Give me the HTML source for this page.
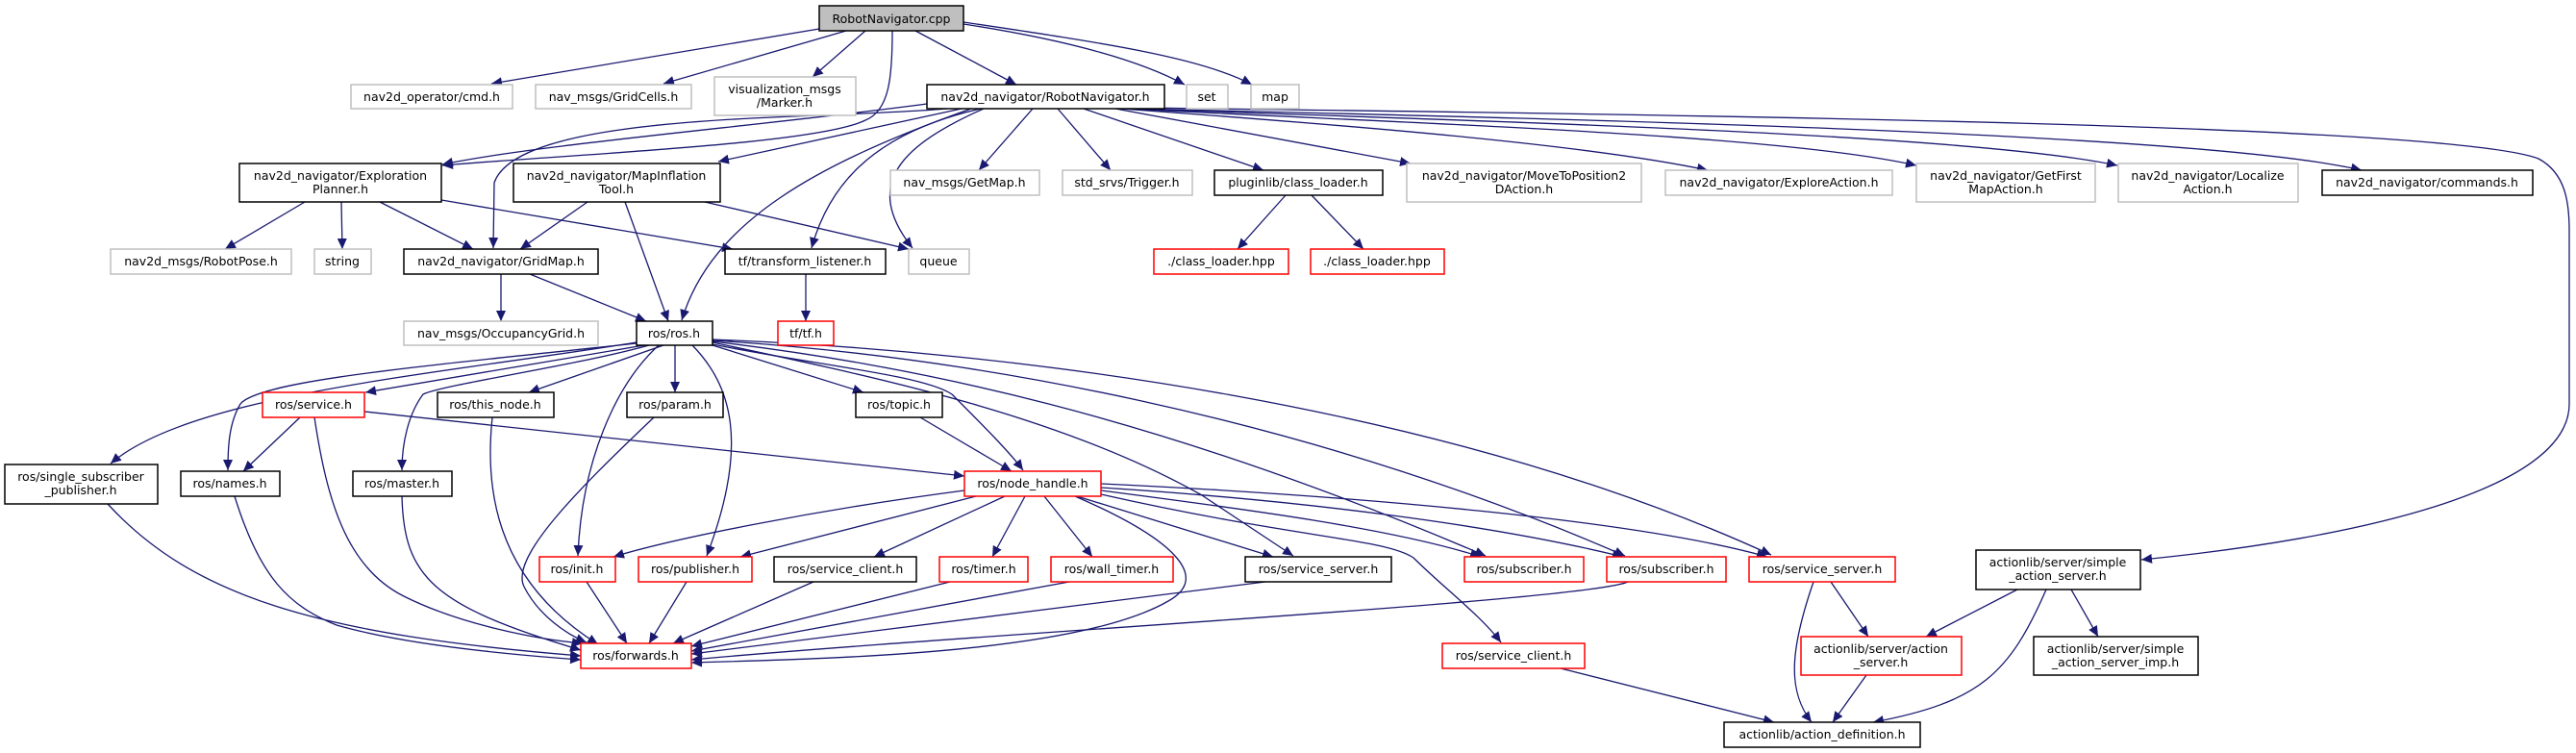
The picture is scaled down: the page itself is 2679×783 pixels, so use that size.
<!DOCTYPE html>
<html><head><meta charset="utf-8"><style>
html,body{margin:0;padding:0;background:#fff;}
svg{display:block;}
text{font-family:"DejaVu Sans","Liberation Sans",sans-serif;font-size:12.5px;fill:#000;text-anchor:middle;}
.e{fill:none;stroke:#191970;stroke-width:1.3;marker-end:url(#a);}
.b{fill:#fff;stroke:#000;stroke-width:1.5;}
.g{fill:#fff;stroke:#bfbfbf;stroke-width:1.5;}
.r{fill:#fff;stroke:#ff0000;stroke-width:1.5;}
</style></head><body>
<svg width="2679" height="783" viewBox="0 0 2679 783" xmlns="http://www.w3.org/2000/svg">
<defs><marker id="a" markerUnits="userSpaceOnUse" markerWidth="12" markerHeight="10" refX="11" refY="5" orient="auto"><path d="M0,0 L11,5 L0,10 z" fill="#191970"/></marker></defs>
<!-- edges -->
<g>
<path class="e" d="M852,30 L511,87"/>
<path class="e" d="M880,32 L690,87"/>
<path class="e" d="M900,32 L845,80"/>
<path class="e" d="M928,32 C928,80 925,115 900,125 C850,150 600,160 460,172"/>
<path class="e" d="M952,32 L1057,88"/>
<path class="e" d="M1002,25 C1100,40 1180,60 1232,88"/>
<path class="e" d="M1002,23 C1150,45 1250,60 1302,88"/>
<path class="e" d="M964,108 C800,130 560,150 460,171"/>
<path class="e" d="M1000,113 L747,168"/>
<path class="e" d="M985,113 C850,125 540,115 514,190 L513,258"/>
<path class="e" d="M1010,113 C850,170 740,230 709,333"/>
<path class="e" d="M1020,113 C900,140 860,200 844,258"/>
<path class="e" d="M1023,113 C940,150 895,190 949,258"/>
<path class="e" d="M1074,113 L1018,177"/>
<path class="e" d="M1100,113 L1155,177"/>
<path class="e" d="M1127,113 L1314,177"/>
<path class="e" d="M1160,113 L1467,170"/>
<path class="e" d="M1165,113 C1400,130 1650,150 1776,177"/>
<path class="e" d="M1170,113 C1500,130 1850,140 1993,172"/>
<path class="e" d="M1175,113 C1600,128 2050,140 2202,172"/>
<path class="e" d="M1180,113 C1700,125 2300,140 2456,177"/>
<path class="e" d="M1185,112 C1800,120 2550,130 2640,165 C2668,180 2672,210 2672,240 L2672,420 C2672,510 2450,560 2227,582"/>
<path class="e" d="M317,210 L234,259"/>
<path class="e" d="M355,210 L356,259"/>
<path class="e" d="M395,210 L492,259"/>
<path class="e" d="M459,208 L762,259"/>
<path class="e" d="M611,210 L541,259"/>
<path class="e" d="M650,210 L695,334"/>
<path class="e" d="M733,210 L945,259"/>
<path class="e" d="M521,285 L521,334"/>
<path class="e" d="M551,285 L672,334"/>
<path class="e" d="M838,285 L838,334"/>
<path class="e" d="M1337,203 L1287,259"/>
<path class="e" d="M1364,203 L1418,259"/>
<path class="e" d="M662,356 C450,390 200,410 115,482"/>
<path class="e" d="M662,357 C450,380 270,395 250,420 C238,440 237,465 237,489"/>
<path class="e" d="M670,359 L380,408"/>
<path class="e" d="M675,359 C600,380 460,400 440,410 C425,430 418,460 418,489"/>
<path class="e" d="M690,359 L550,408"/>
<path class="e" d="M702,359 L702,408"/>
<path class="e" d="M685,359 C640,400 605,480 601,578"/>
<path class="e" d="M720,359 C760,400 780,460 735,578"/>
<path class="e" d="M741,359 L898,408"/>
<path class="e" d="M741,358 C850,380 960,390 990,410 C1020,440 1050,470 1064,489"/>
<path class="e" d="M741,356 C900,390 1100,430 1250,515 L1345,578"/>
<path class="e" d="M741,355 C950,380 1200,430 1545,578"/>
<path class="e" d="M741,354 C1000,370 1350,430 1690,578"/>
<path class="e" d="M741,353 C1050,365 1500,420 1842,577"/>
<path class="e" d="M312,434 L253,490"/>
<path class="e" d="M327,434 C340,520 360,590 420,620 C480,650 560,665 606,669"/>
<path class="e" d="M379,428 L1003,495"/>
<path class="e" d="M512,434 C505,500 510,600 622,670"/>
<path class="e" d="M680,434 C600,510 530,580 545,610 C560,640 590,660 610,668"/>
<path class="e" d="M957,434 L1052,490"/>
<path class="e" d="M112,524 C200,620 330,660 604,682"/>
<path class="e" d="M244,516 C270,600 300,630 350,650 C420,670 520,680 604,686"/>
<path class="e" d="M418,516 C420,600 450,630 604,676"/>
<path class="e" d="M610,605 L652,669"/>
<path class="e" d="M714,605 L675,669"/>
<path class="e" d="M846,605 L700,669"/>
<path class="e" d="M988,605 L719,672"/>
<path class="e" d="M1112,605 L719,677"/>
<path class="e" d="M1316,605 L719,680"/>
<path class="e" d="M1693,605 C1650,625 1000,660 719,686"/>
<path class="e" d="M1118,516 C1220,560 1260,600 1215,625 C1120,680 860,685 719,689"/>
<path class="e" d="M1003,510 C850,530 700,560 638,579"/>
<path class="e" d="M1015,516 L770,579"/>
<path class="e" d="M1045,516 L909,579"/>
<path class="e" d="M1066,516 L1032,579"/>
<path class="e" d="M1086,516 L1136,579"/>
<path class="e" d="M1120,516 L1324,579"/>
<path class="e" d="M1145,510 C1300,530 1450,550 1540,579"/>
<path class="e" d="M1145,507 C1350,520 1550,545 1688,579"/>
<path class="e" d="M1145,503 C1400,515 1700,540 1838,579"/>
<path class="e" d="M1145,514 C1350,560 1440,560 1470,580 C1500,610 1540,640 1561,668"/>
<path class="e" d="M1623,695 L1845,751"/>
<path class="e" d="M1886,605 C1860,680 1860,720 1884,751"/>
<path class="e" d="M1904,605 L1943,662"/>
<path class="e" d="M2098,613 L2003,662"/>
<path class="e" d="M2128,613 C2090,700 2060,730 1948,751"/>
<path class="e" d="M2154,613 L2182,662"/>
<path class="e" d="M1941,702 L1906,751"/>
</g>
<!-- nodes -->
<rect x="852" y="6" width="150" height="26" fill="#bfbfbf" stroke="#000" stroke-width="1.5"/><text x="927" y="24">RobotNavigator.cpp</text>
<rect class="g" x="365" y="88" width="168" height="25"/><text x="449" y="105">nav2d_operator/cmd.h</text>
<rect class="g" x="557" y="88" width="162" height="25"/><text x="638" y="105">nav_msgs/GridCells.h</text>
<rect class="g" x="743" y="80" width="147" height="40"/><text x="816" y="97">visualization_msgs</text><text x="816" y="111">/Marker.h</text>
<rect class="b" x="964" y="88" width="247" height="25"/><text x="1087" y="105">nav2d_navigator/RobotNavigator.h</text>
<rect class="g" x="1234" y="88" width="43" height="25"/><text x="1255" y="105">set</text>
<rect class="g" x="1301" y="88" width="50" height="25"/><text x="1326" y="105">map</text>
<rect class="b" x="249" y="170" width="210" height="40"/><text x="354" y="187">nav2d_navigator/Exploration</text><text x="354" y="201">Planner.h</text>
<rect class="b" x="534" y="170" width="215" height="40"/><text x="641" y="187">nav2d_navigator/MapInflation</text><text x="641" y="201">Tool.h</text>
<rect class="g" x="926" y="177" width="155" height="26"/><text x="1003" y="194">nav_msgs/GetMap.h</text>
<rect class="g" x="1105" y="177" width="135" height="26"/><text x="1172" y="194">std_srvs/Trigger.h</text>
<rect class="b" x="1263" y="177" width="175" height="26"/><text x="1350" y="194">pluginlib/class_loader.h</text>
<rect class="g" x="1463" y="170" width="244" height="40"/><text x="1585" y="187">nav2d_navigator/MoveToPosition2</text><text x="1585" y="201">DAction.h</text>
<rect class="g" x="1732" y="177" width="236" height="26"/><text x="1850" y="194">nav2d_navigator/ExploreAction.h</text>
<rect class="g" x="1993" y="170" width="186" height="40"/><text x="2086" y="187">nav2d_navigator/GetFirst</text><text x="2086" y="201">MapAction.h</text>
<rect class="g" x="2203" y="170" width="187" height="40"/><text x="2296" y="187">nav2d_navigator/Localize</text><text x="2296" y="201">Action.h</text>
<rect class="b" x="2415" y="177" width="219" height="26"/><text x="2524" y="194">nav2d_navigator/commands.h</text>
<rect class="g" x="115" y="259" width="188" height="26"/><text x="209" y="276">nav2d_msgs/RobotPose.h</text>
<rect class="g" x="327" y="259" width="59" height="26"/><text x="356" y="276">string</text>
<rect class="b" x="420" y="259" width="202" height="26"/><text x="521" y="276">nav2d_navigator/GridMap.h</text>
<rect class="b" x="754" y="259" width="167" height="26"/><text x="837" y="276">tf/transform_listener.h</text>
<rect class="g" x="945" y="259" width="63" height="26"/><text x="976" y="276">queue</text>
<rect class="r" x="1200" y="259" width="140" height="26"/><text x="1270" y="276">./class_loader.hpp</text>
<rect class="r" x="1363" y="259" width="139" height="26"/><text x="1432" y="276">./class_loader.hpp</text>
<rect class="g" x="420" y="334" width="202" height="25"/><text x="521" y="351">nav_msgs/OccupancyGrid.h</text>
<rect class="b" x="662" y="334" width="79" height="25"/><text x="701" y="351">ros/ros.h</text>
<rect class="r" x="809" y="334" width="58" height="25"/><text x="838" y="351">tf/tf.h</text>
<rect class="r" x="273" y="408" width="106" height="26"/><text x="326" y="425">ros/service.h</text>
<rect class="b" x="455" y="408" width="121" height="26"/><text x="515" y="425">ros/this_node.h</text>
<rect class="b" x="652" y="408" width="100" height="26"/><text x="702" y="425">ros/param.h</text>
<rect class="b" x="890" y="408" width="90" height="26"/><text x="935" y="425">ros/topic.h</text>
<rect class="b" x="5" y="483" width="159" height="41"/><text x="84" y="500">ros/single_subscriber</text><text x="84" y="514">_publisher.h</text>
<rect class="b" x="188" y="490" width="103" height="26"/><text x="239" y="507">ros/names.h</text>
<rect class="b" x="367" y="490" width="103" height="26"/><text x="418" y="507">ros/master.h</text>
<rect class="r" x="1003" y="490" width="142" height="26"/><text x="1074" y="507">ros/node_handle.h</text>
<rect class="r" x="561" y="579" width="79" height="26"/><text x="600" y="596">ros/init.h</text>
<rect class="r" x="664" y="579" width="118" height="26"/><text x="723" y="596">ros/publisher.h</text>
<rect class="b" x="805" y="579" width="148" height="26"/><text x="879" y="596">ros/service_client.h</text>
<rect class="r" x="977" y="579" width="92" height="26"/><text x="1023" y="596">ros/timer.h</text>
<rect class="r" x="1093" y="579" width="127" height="26"/><text x="1156" y="596">ros/wall_timer.h</text>
<rect class="b" x="1295" y="579" width="152" height="26"/><text x="1371" y="596">ros/service_server.h</text>
<rect class="r" x="1523" y="579" width="124" height="26"/><text x="1585" y="596">ros/subscriber.h</text>
<rect class="r" x="1671" y="579" width="124" height="26"/><text x="1733" y="596">ros/subscriber.h</text>
<rect class="r" x="1819" y="579" width="152" height="26"/><text x="1895" y="596">ros/service_server.h</text>
<rect class="b" x="2055" y="572" width="171" height="41"/><text x="2140" y="589">actionlib/server/simple</text><text x="2140" y="603">_action_server.h</text>
<rect class="r" x="604" y="669" width="115" height="26"/><text x="661" y="686">ros/forwards.h</text>
<rect class="r" x="1500" y="669" width="148" height="26"/><text x="1574" y="686">ros/service_client.h</text>
<rect class="r" x="1873" y="662" width="167" height="40"/><text x="1956" y="679">actionlib/server/action</text><text x="1956" y="693">_server.h</text>
<rect class="b" x="2115" y="662" width="171" height="40"/><text x="2200" y="679">actionlib/server/simple</text><text x="2200" y="693">_action_server_imp.h</text>
<rect class="b" x="1793" y="751" width="204" height="26"/><text x="1895" y="768">actionlib/action_definition.h</text>
</svg>
</body></html>
